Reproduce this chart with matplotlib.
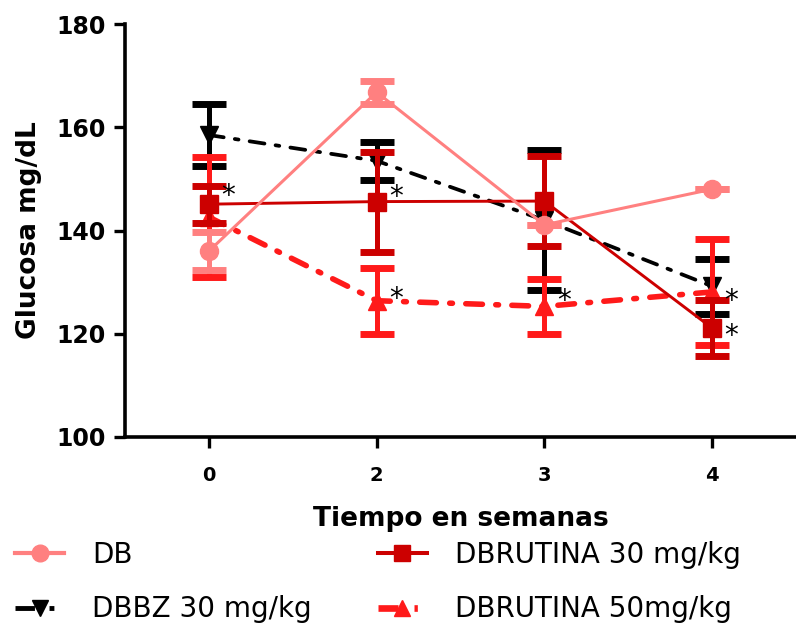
import numpy as np
import matplotlib
matplotlib.use("Agg")
import matplotlib.pyplot as plt
from matplotlib.lines import Line2D

plt.rcParams['font.family'] = ['DejaVu Sans']

# weeks (categorical positions)
weeks = ['0', '2', '3', '4']

# mean glucose and error (mg/dL) per group
db_mean = [136.0, 166.8, 141.1, 148.0]
db_err = [3.7, 2.2, 0.0, 0.0]

dbbz_mean = [158.5, 153.5, 142.0, 129.2]
dbbz_err = [6.0, 3.7, 13.5, 5.3]

rut30_mean = [145.1, 145.6, 145.7, 121.1]
rut30_err = [3.6, 9.7, 8.7, 5.5]

rut50_mean = [142.6, 126.4, 125.3, 128.1]
rut50_err = [11.6, 6.4, 5.3, 10.2]

# significance marks
star_x = [0, 1, 1, 2, 3, 3]
star_y = [146.6, 146.5, 126.8, 126.3, 126.3, 119.6]

x = np.arange(len(weeks))

fig = plt.figure(figsize=(7.96, 6.24), dpi=100)
ax = fig.add_axes([0.157, 0.2997, 0.843, 0.6618])

styles = [
    # label, mean, err, color, linestyle, lw, marker, ms, zorder
    ('DBBZ 30 mg/kg', dbbz_mean, dbbz_err, 'black', (0, (4, 3, 1, 3)), 2.7, 'v', 13, 2),
    ('DBRUTINA 50mg/kg', rut50_mean, rut50_err, '#ff1a1a', (0, (3, 2.4, 0.5, 2.4)), 4.0, '^', 13, 3),
    ('DBRUTINA 30 mg/kg', rut30_mean, rut30_err, '#cc0000', '-', 2.1, 's', 13, 4),
    ('DB', db_mean, db_err, '#ff8080', '-', 2.2, 'o', 13, 5),
]

handles = {}
for lab, m, e, c, ls, lw, mk, ms, z in styles:
    ax.errorbar(x, m, yerr=e, color=c, linestyle=ls, linewidth=lw, marker=mk,
                markersize=ms, elinewidth=3.6, capsize=12, capthick=5, zorder=z,
                dash_capstyle='round')
    handles[lab] = Line2D([], [], color=c, linestyle=ls, linewidth=lw + 0.8,
                          marker=mk, markersize=12)

for sx, sy in zip(star_x, star_y):
    ax.text(sx + 0.075, sy, '*', fontsize=20, ha='left', va='center', color='black', zorder=6)

ax.set_xlim(-0.5, 3.5)
ax.set_ylim(100, 180)
ax.set_xticks(x)
ax.set_xticklabels(weeks, fontsize=14, fontweight='bold')
ax.set_yticks([100, 120, 140, 160, 180])
ax.set_yticklabels(['100', '120', '140', '160', '180'], fontsize=17, fontweight='bold')
ax.tick_params(axis='both', width=2.4, length=8)
ax.tick_params(axis='x', pad=13)
ax.tick_params(axis='y', pad=6)
ax.spines['top'].set_visible(False)
ax.spines['right'].set_visible(False)
ax.spines['left'].set_linewidth(2.6)
ax.spines['bottom'].set_linewidth(2.6)

ax.set_xlabel('Tiempo en semanas', fontsize=19, fontweight='bold', labelpad=15)
ax.set_ylabel('Glucosa mg/dL', fontsize=19, fontweight='bold', labelpad=10)

order = ['DB', 'DBBZ 30 mg/kg', 'DBRUTINA 30 mg/kg', 'DBRUTINA 50mg/kg']
fig.legend([handles[k] for k in order], order, loc='lower left',
           bbox_to_anchor=(-0.005, -0.03), ncol=2, frameon=False, fontsize=20,
           handlelength=1.75, handletextpad=1.0, labelspacing=0.95, columnspacing=2.4,
           borderaxespad=0.3)

fig.savefig('out.png', dpi=100)
